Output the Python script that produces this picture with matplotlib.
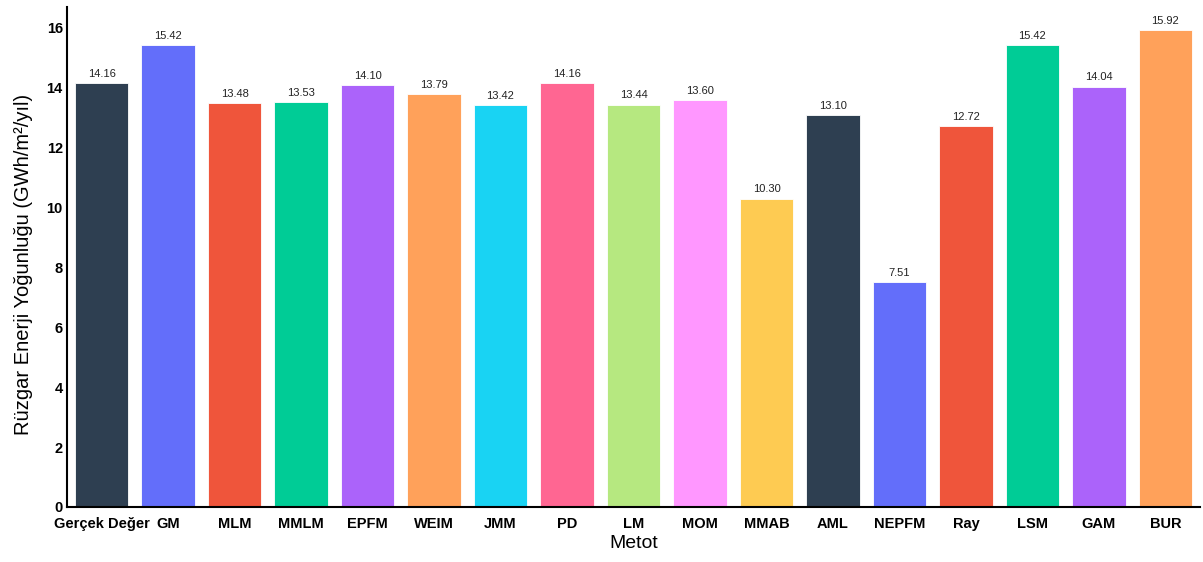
import matplotlib
matplotlib.use("Agg")
import matplotlib.pyplot as plt

methods = ["Gerçek Değer", "GM", "MLM", "MMLM", "EPFM", "WEIM", "JMM", "PD", "LM",
           "MOM", "MMAB", "AML", "NEPFM", "Ray", "LSM", "GAM", "BUR"]
values = [14.16, 15.42, 13.48, 13.53, 14.10, 13.79, 13.42, 14.16, 13.44,
          13.60, 10.30, 13.10, 7.51, 12.72, 15.42, 14.04, 15.92]
colors = ["#2E3F51", "#636EFA", "#EF553B", "#00CC96", "#AB63FA", "#FFA15A",
          "#19D3F3", "#FF6692", "#B6E880", "#FF97FF", "#FECB52", "#2E3F51",
          "#636EFA", "#EF553B", "#00CC96", "#AB63FA", "#FFA15A"]
y_ticks = [0, 2, 4, 6, 8, 10, 12, 14, 16]

plt.rcParams["font.family"] = ["Liberation Sans", "DejaVu Sans"]

fig = plt.figure(figsize=(12.03, 5.62), dpi=100)
ax = fig.add_axes([67 / 1203, 55 / 562, 1133 / 1203, 500.5 / 562])

x = list(range(len(methods)))
bars = ax.bar(x, values, width=0.8, color=colors, edgecolor="white", linewidth=0.6)

for xi, v in zip(x, values):
    ax.annotate(f"{v:.2f}", (xi, v), xytext=(0, 3), textcoords="offset points",
                ha="center", va="bottom", fontsize=8, color="#222222")

ax.set_xlim(-0.52, len(methods) - 0.48)
ax.set_ylim(0, max(values) * 1.05)
ax.set_yticks(y_ticks)
ax.set_xticks(x)
ax.set_xticklabels(methods)
ax.tick_params(axis="both", length=0, labelsize=10.5)
ax.tick_params(axis="x", pad=7)
ax.tick_params(axis="y", pad=3)
for lbl in ax.get_xticklabels() + ax.get_yticklabels():
    lbl.set_fontweight("bold")

ax.set_xlabel("Metot", fontsize=14, labelpad=3)
ax.set_ylabel("Rüzgar Enerji Yoğunluğu (GWh/m²/yıl)", fontsize=14.5)
ax.yaxis.set_label_coords(-0.030, 0.485)

for side in ["top", "right"]:
    ax.spines[side].set_visible(False)
for side in ["left", "bottom"]:
    ax.spines[side].set_linewidth(1.5)
    ax.spines[side].set_color("black")

fig.savefig("out.png", dpi=100)
